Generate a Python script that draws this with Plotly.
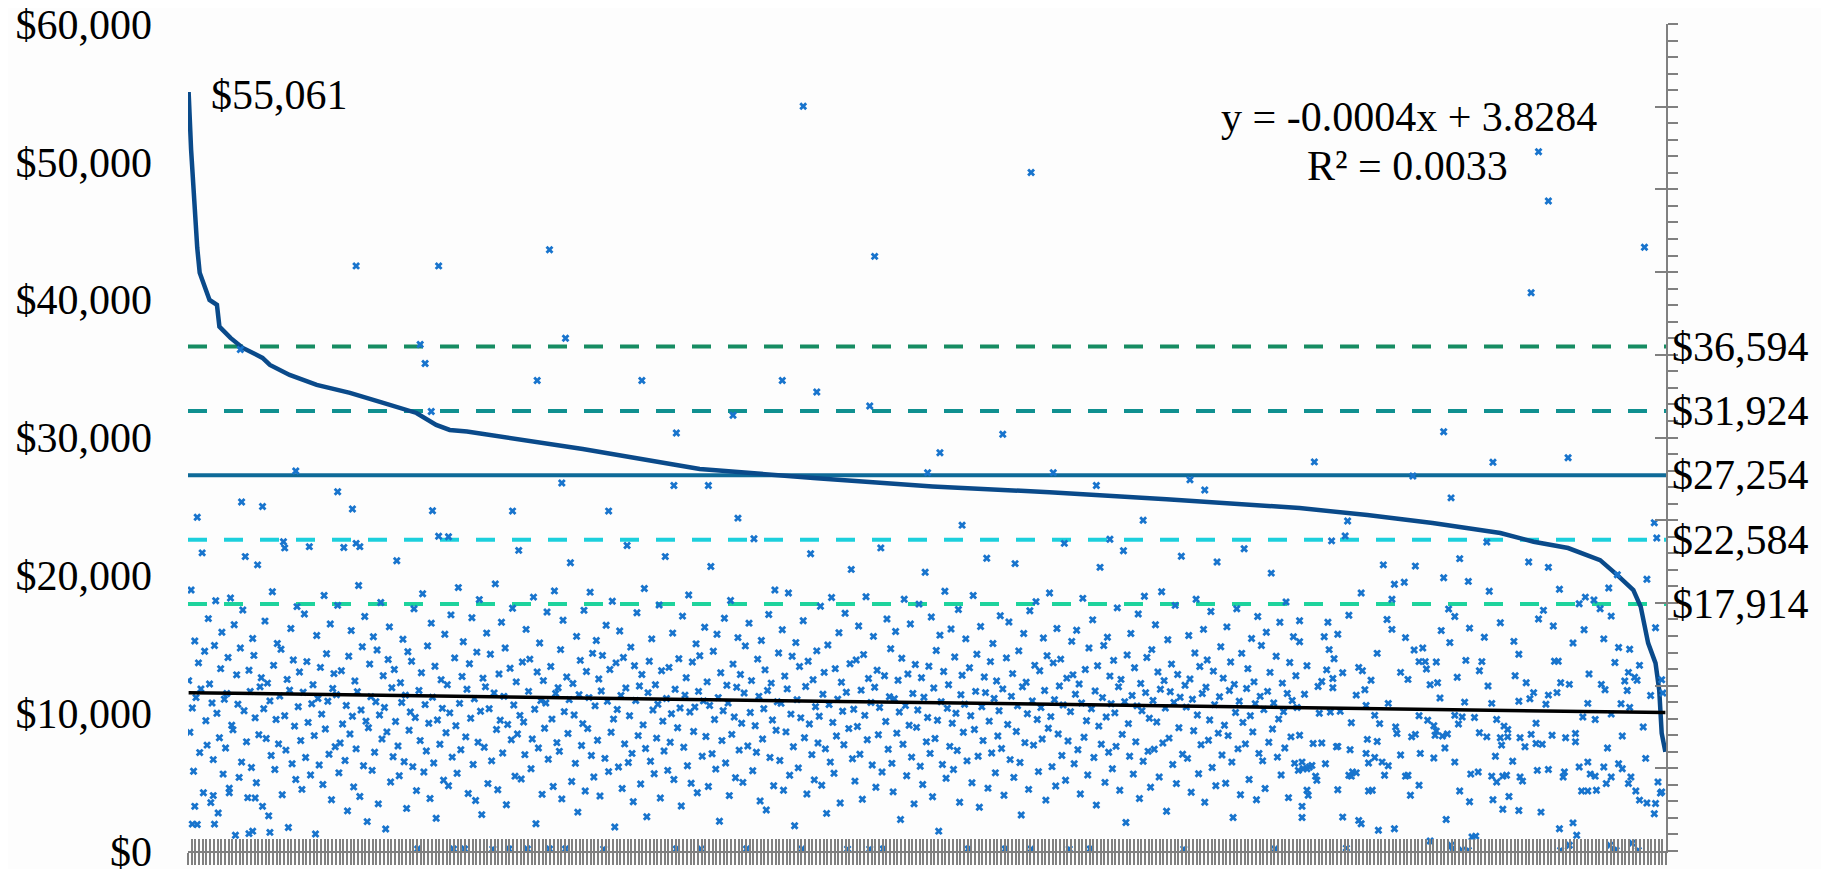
import plotly.graph_objects as go

N = 1200  # number of categories on the x axis

# Sorted (descending) dollar curve, read at selected category indices
curve_idx = [1, 3, 8, 10, 18, 24, 26, 35, 45, 61, 67, 83, 105, 132, 159, 186, 202, 213, 227,
             321, 416, 511, 605, 700, 795, 903, 958, 1011, 1066, 1093, 1121, 1147, 1161,
             1174, 1180, 1186, 1192, 1195, 1197, 1200]
curve_val = [55061, 50900, 43760, 41945, 39980, 39620, 38045, 37225, 36500, 35775, 35265, 34540,
             33815, 33235, 32510, 31780, 30910, 30550, 30430, 29160, 27720, 27040, 26450, 26030,
             25520, 24880, 24370, 23790, 23070, 22435, 21980, 21105, 20020, 18930, 17715, 15080,
             13630, 11670, 8550, 7190]

# Reference levels (mean and +/- 1, 2 SD)
levels = [36594, 31924, 27254, 22584, 17914]
level_labels = ["$36,594", "$31,924", "$27,254", "$22,584", "$17,914"]
level_colors = ["#168C62", "#109090", "#0E6A98", "#1CCFDC", "#1ED39C"]
level_dash = ["19px,17px", "19px,17px", "solid", "19px,17px", "19px,17px"]

# Trendline (secondary axis units)
trend_slope = -0.0004
trend_intercept = 3.8284

# Dense band, categories 1..902, one value per category (secondary axis units, estimated)
left_vals = [
    4.12, 2.87, 6.31, 3.46, 1.93, 5.08, 3.71, 0.64, 4.55, 2.38, 3.92, 7.21, 1.41, 4.83, 3.15, 2.56, 5.62, 4.04, 1.17, 3.58, 2.21, 4.97, 6.05, 3.33, 0.92, 2.74, 4.41, 5.29, 1.86, 3.67,
    2.49, 3.81, 4.68, 1.52, 6.12, 3.04, 2.93, 5.47, 0.38, 4.26, 3.55, 1.78, 4.91, 2.15, 5.83, 3.39, 7.12, 2.64, 1.29, 4.37, 3.86, 2.02, 5.14, 4.73, 3.22, 1.65, 6.92, 2.81, 3.97, 4.19,
    1.08, 3.44, 5.56, 2.72, 4.06, 0.85, 3.63, 2.31, 6.27, 4.49, 1.97, 3.18, 5.02, 2.59, 3.75, 4.88, 1.36, 7.48, 3.27, 2.44, 4.15, 0.57, 3.89, 5.38, 2.11, 4.62, 3.02, 1.73, 5.91, 3.49,
    4.33, 2.67, 1.49, 3.84, 5.73, 2.26, 4.58, 3.11, 7.36, 1.84, 3.56, 4.02, 2.79, 0.41, 5.21, 3.69, 2.08, 4.44, 3.31, 1.61, 6.18, 2.95, 4.77, 3.62, 2.34, 5.49, 1.24, 3.93, 4.29, 2.52,
    3.78, 5.94, 1.89, 2.61, 4.36, 3.07, 7.34, 2.19, 3.52, 0.97, 4.71, 2.83, 5.33, 3.26, 1.55, 4.11, 2.47, 3.85, 6.42, 1.32, 3.41, 4.94, 2.06, 5.67, 3.14, 0.71, 2.98, 4.52, 3.73, 1.95,
    5.18, 2.39, 3.61, 4.86, 1.14, 3.29, 6.01, 2.71, 4.24, 3.47, 0.53, 2.88, 4.63, 5.42, 1.67, 3.95, 2.28, 4.39, 3.13, 7.02, 2.54, 1.82, 4.07, 3.59, 5.12, 2.16, 3.77, 1.03, 4.82, 2.92,
    3.36, 4.59, 2.04, 5.86, 3.23, 1.46, 0.05, 3.88, 2.67, 4.31, 6.22, 1.91, 3.54, 2.42, 4.96, 3.09, 1.27, 5.51, 3.72, 2.13, 4.47, 0.79, 3.17, 7.61, 2.58, 4.14, 3.45, 1.71, 5.24, 2.86,
    4.02, 1.58, 3.34, 5.71, 2.27, 0.05, 4.67, 3.03, 1.88, 6.37, 3.57, 2.45, 4.22, 5.06, 0.05, 2.76, 3.91, 1.39, 4.53, 3.21, 5.64, 2.09, 3.68, 1.22, 4.81, 2.63, 6.08, 3.38, 0.88, 4.18,
    2.51, 3.97, 5.27, 1.63, 3.44, 4.76, 2.18, 0.05, 3.82, 6.46, 2.94, 1.48, 4.28, 3.16, 5.53, 2.37, 3.74, 4.91, 1.12, 3.06, 0.05, 4.42, 2.69, 5.87, 3.53, 1.81, 4.09, 2.83, 7.27, 3.28,
    1.74, 4.57, 3.12, 2.33, 5.36, 0.05, 3.86, 4.64, 1.99, 2.71, 6.14, 3.43, 0.66, 4.33, 2.49, 5.03, 3.64, 1.37, 4.12, 2.97, 3.58, 5.78, 2.22, 0.05, 4.46, 3.19, 1.56, 6.29, 3.81, 2.62,
    3.95, 2.41, 4.87, 1.26, 5.58, 3.37, 0.05, 4.21, 2.84, 3.66, 6.97, 1.68, 4.05, 3.29, 2.12, 5.19, 0.94, 3.78, 4.61, 2.55, 3.08, 5.82, 1.45, 4.34, 2.96, 3.71, 6.26, 2.31, 4.78, 1.79,
    3.51, 5.09, 2.68, 4.16, 1.33, 3.87, 4.73, 0.05, 2.24, 5.46, 3.62, 1.92, 4.39, 2.87, 6.04, 3.19, 0.58, 4.55, 3.42, 2.03, 5.32, 3.76, 1.51, 4.68, 2.59, 3.94, 7.39, 2.14, 3.27, 4.93,
    2.36, 1.19, 4.48, 3.64, 5.76, 2.79, 3.99, 1.62, 4.27, 3.05, 6.35, 2.48, 0.83, 3.83, 4.59, 2.17, 5.13, 3.41, 1.87, 4.02, 2.73, 3.55, 5.95, 1.28, 4.36, 3.14, 2.42, 7.12, 3.69, 1.95,
    4.44, 2.63, 3.32, 5.27, 1.73, 3.91, 0.05, 2.98, 4.65, 3.46, 1.09, 5.68, 2.51, 3.77, 4.19, 2.06, 6.19, 3.36, 1.64, 4.57, 2.89, 3.48, 5.01, 1.41, 3.86, 4.72, 0.05, 2.29, 3.63, 5.41,
    2.77, 4.09, 1.56, 3.52, 6.88, 2.35, 4.83, 3.18, 1.98, 5.24, 3.71, 0.72, 4.31, 2.67, 3.39, 5.63, 2.13, 4.01, 3.58, 1.34, 6.06, 2.82, 4.52, 3.24, 1.77, 3.96, 5.16, 2.44, 4.27, 3.09,
    1.66, 3.82, 4.96, 0.05, 2.54, 5.51, 3.35, 4.12, 1.94, 7.55, 3.03, 2.39, 4.64, 3.74, 1.21, 5.09, 2.71, 3.44, 4.38, 0.99, 3.88, 5.72, 2.26, 4.06, 3.17, 1.58, 6.31, 2.92, 3.61, 4.79,
    2.19, 3.57, 5.35, 1.47, 4.23, 2.88, 3.92, 6.24, 1.83, 3.31, 4.71, 2.52, 0.61, 5.04, 3.66, 2.01, 4.46, 3.22, 0.05, 5.57, 2.74, 3.98, 1.38, 4.59, 3.07, 7.19, 2.33, 4.14, 1.72, 3.49,
    4.84, 2.61, 3.26, 5.92, 1.59, 3.79, 4.32, 2.47, 0.91, 4.98, 3.54, 2.15, 6.13, 3.11, 1.88, 4.41, 2.78, 3.67, 5.28, 1.16, 4.08, 3.38, 2.57, 5.75, 3.84, 0.05, 2.96, 4.53, 6.81, 2.23,
    3.43, 1.69, 4.62, 3.01, 5.44, 2.34, 3.89, 1.25, 4.75, 3.28, 6.15, 2.69, 4.17, 0.05, 3.59, 2.08, 5.19, 3.96, 1.54, 4.37, 2.81, 3.47, 7.33, 1.91, 0.05, 4.24, 3.13, 5.61, 2.46, 3.73,
    4.89, 2.12, 1.43, 3.68, 5.31, 2.85, 4.13, 3.36, 0.76, 4.66, 2.58, 6.09, 3.52, 1.82, 4.28, 3.04, 5.49, 2.27, 3.81, 1.14, 4.51, 2.99, 3.41, 5.97, 2.05, 4.19, 1.61, 3.72, 6.74, 2.64,
    3.23, 4.47, 2.36, 5.66, 1.31, 3.94, 2.72, 4.85, 3.16, 0.48, 5.22, 3.61, 2.09, 4.34, 6.28, 1.76, 3.45, 4.02, 2.53, 5.37, 3.09, 1.97, 4.69, 3.33, 2.43, 5.84, 1.18, 3.78, 4.25, 2.87,
    3.55, 5.13, 2.18, 0.05, 4.43, 3.27, 1.65, 6.18, 2.94, 3.86, 4.76, 2.29, 1.06, 5.43, 3.49, 2.67, 4.21, 3.83, 7.08, 1.52, 3.14, 4.58, 2.37, 5.02, 3.69, 1.89, 4.11, 2.78, 3.39, 5.69,
    2.48, 3.92, 1.35, 0.05, 4.67, 3.06, 5.54, 2.21, 3.74, 4.29, 1.78, 6.95, 2.89, 3.51, 4.84, 2.14, 0.87, 3.97, 5.26, 2.62, 4.08, 3.32, 1.49, 5.81, 0.05, 3.63, 2.56, 4.49, 6.03, 3.18,
    1.92, 4.36, 3.47, 2.71, 5.15, 3.88, 1.23, 4.72, 2.97, 6.24, 3.25, 2.04, 4.55, 3.66, 1.57, 5.38, 2.83, 3.99, 4.64, 2.31, 3.53, 7.44, 1.71, 4.18, 2.66, 0.05, 3.37, 5.07, 4.26, 2.11,
    3.79, 5.34, 2.45, 4.04, 1.38, 3.58, 6.11, 2.75, 4.39, 3.15, 1.84, 4.91, 0.05, 3.44, 5.59, 2.26, 3.87, 1.11, 4.48, 3.02, 6.86, 2.58, 3.71, 4.97, 1.66, 3.24, 5.17, 2.39, 4.23, 3.56,
    1.99, 4.61, 3.34, 2.53, 5.88, 3.97, 1.47, 4.15, 2.82, 7.26, 3.61, 0.69, 4.74, 3.08, 2.29, 5.26, 3.76, 1.86, 4.43, 2.64, 3.51, 5.73, 1.27, 4.05, 3.39, 2.17, 6.16, 3.83, 4.68, 2.41,
    3.21, 1.54, 4.87, 3.64, 2.46, 5.47, 3.12, 4.33, 1.79, 3.91, 6.27, 2.61, 4.12, 3.46, 0.96, 5.11, 2.73, 3.85, 4.52, 2.09, 3.59, 5.94, 1.63, 4.27, 2.98, 3.72, 7.13, 2.34, 0.05, 4.01,
    3.48, 2.24, 5.21, 4.16, 1.42, 3.67, 2.91, 4.79, 6.09, 3.29, 1.87, 4.46, 2.57, 3.81, 5.36, 1.18, 3.96, 4.62, 2.68, 3.17, 5.79, 2.02, 4.35, 3.54, 1.58, 6.99, 2.85, 3.73, 4.94, 2.32,
    4.18, 3.04, 1.64, 5.42, 2.79, 3.88, 4.57, 2.15, 0.81, 4.03, 3.35, 5.86, 2.47, 3.62, 1.36, 4.78, 3.11, 7.31, 2.59, 3.93, 4.41, 1.73, 3.27, 5.14, 2.88, 4.09, 3.56, 1.24, 5.67, 2.36,
    3.74, 4.97, 2.18, 3.42, 1.51, 5.29, 3.86, 2.63, 4.32, 6.72, 2.95, 3.58, 0.05, 4.71, 2.27, 3.19, 5.53, 1.84, 4.06, 3.37, 2.49, 6.02, 3.81, 1.29, 4.56, 2.76, 3.64, 5.18, 2.12, 4.24,
    3.47, 1.95,
]

# Individually read scatter points (category index, secondary axis units)
scatter_idx = [
    500, 685, 1097, 1105, 1183, 1091, 294, 558, 137, 204, 307, 189, 193, 43, 284, 369, 483, 511,
    198, 554, 443, 662, 397, 1020, 611, 915, 88, 703, 601, 304, 395, 423, 738, 814, 826,
    122, 44, 61, 134, 199, 8, 212, 79, 137, 140, 264, 342, 776, 447, 629, 749,
    1060, 1121, 995, 1026, 942, 1191, 940, 929, 1055, 1193, 1033, 1089, 1105, 971, 997, 1020,
    1040, 980, 988, 1161, 1185, 953, 1057, 1114, 1154, 978, 1024, 1135, 1142, 1130, 1147, 1101,
    1029, 943, 1156, 903, 926, 974, 1097, 1066, 978, 1018, 1041, 1109, 1134, 1192, 923, 934,
    989, 1053, 1150, 903, 1025, 1077, 1125, 927, 966, 996, 1003, 1162, 1171, 931, 1000, 1005,
    1014, 1038, 1051, 1081, 1110, 1113, 1159, 1179, 909, 925, 938, 951, 954, 985, 1006, 1049,
    1078, 1138, 1170, 1175, 1177, 1031, 991, 921, 930, 961, 1015, 1115, 1122, 1148, 1167, 1197,
    918, 930, 956, 1009, 1056, 1087, 1151, 1169, 1198, 907, 949, 1017, 1093, 1105, 1112, 1188,
    1037, 1059, 1081, 1090, 1137, 1164, 1103, 1171, 975, 957, 919, 928, 936, 964, 1000, 1007,
    1029, 1035, 1045, 1063, 1133, 1143, 1156, 945, 968, 1012, 1014, 981, 1032, 1095, 1069, 1072,
    1049, 903, 982, 997, 994, 1013, 1019, 1023, 1055, 1066, 1072, 1082, 1091, 1108, 1119, 1127,
    1127, 1165, 1182, 914, 921, 933, 958, 966, 1021, 1067, 1086, 1095, 1100, 1153, 934, 944,
    905, 906, 909, 911, 913, 916, 917, 924, 905, 905, 909, 910, 934, 938, 943, 945, 946, 949,
    951, 953, 959, 962, 957, 959, 964, 970, 975, 972, 967, 980, 985, 989, 991, 993, 1000, 1001,
    1012, 1022, 1029, 1033, 1042, 1041, 1048, 1009, 1026, 1027, 1035, 1040, 1043, 1046, 1059,
    1063, 1060, 1062, 1068, 1071, 1073, 1068, 1076, 1081, 1082, 1084, 1096, 1105, 1099, 1114,
    1115, 1117, 1118, 1122, 1125, 1128, 1130, 1132, 1137, 1137, 1139, 1143, 1144, 1150, 1152,
    1156, 1162, 1165, 1170, 1172, 1176, 1179, 1184, 1185, 1191, 1192, 1194, 1196, 1197, 1155,
    1158, 1160, 1173, 1178, 941,
    6, 21, 34, 55, 4, 22, 50, 53, 67,
]
scatter_val = [
    18.01, 16.41, 16.91, 15.72, 14.60, 13.50, 14.54, 14.38, 14.15, 14.15, 12.40, 12.25, 11.79,
    12.13, 11.38, 11.38, 11.38, 11.10, 10.63, 10.76, 10.54, 10.08, 10.11, 10.14, 9.63, 9.41,
    9.19, 9.15, 9.15, 8.90, 8.84, 8.84, 8.84, 8.98, 8.73,
    8.69, 8.44, 8.33, 8.27, 8.23, 8.07, 7.60, 7.33, 7.44, 7.36, 8.22, 8.22, 8.00, 8.05, 7.88, 7.54,
    9.40, 9.51, 9.07, 8.54, 7.98, 7.94, 7.62, 7.50, 7.47, 7.57, 7.07, 6.99, 6.86, 6.92, 6.89, 6.61,
    6.52, 6.45, 6.50, 6.68, 6.57, 6.24, 6.28, 6.33, 6.36, 6.09, 5.85, 6.14, 6.07, 5.98, 5.86, 5.82,
    5.67, 5.70, 5.68, 5.57, 5.53, 5.60, 5.61, 5.52, 5.36, 5.33, 5.39, 5.44, 5.35, 5.40, 5.18, 5.24,
    5.16, 5.17, 5.13, 5.06, 5.04, 5.07, 5.03, 4.87, 4.78, 4.86, 4.91, 4.92, 4.88, 4.65, 4.58, 4.58,
    4.57, 4.61, 4.58, 4.76, 4.59, 4.59, 4.56, 4.49, 4.48, 4.38, 4.31, 4.44, 4.36, 4.32, 4.40, 4.36,
    4.24, 4.28, 4.32, 4.20, 4.13, 4.20, 4.15, 4.10, 4.17, 4.13, 4.07, 4.07, 4.03, 4.03, 4.11, 4.14,
    3.98, 3.95, 3.90, 4.02, 3.99, 4.07, 3.90, 3.88, 3.82, 3.79, 3.77, 3.70, 3.83, 3.77, 3.83, 3.76,
    3.60, 3.57, 3.62, 3.68, 3.57, 3.56, 3.55, 3.47, 3.57, 3.52, 3.33, 3.36, 3.38, 3.28, 3.27, 3.16,
    3.28, 3.24, 3.23, 3.18, 3.24, 3.18, 3.31, 3.10, 3.08, 3.03, 2.90, 3.00, 3.07, 3.09, 3.02, 2.94,
    2.86, 2.80, 2.84, 2.82, 2.76, 2.80, 2.78, 2.83, 2.76, 2.74, 2.76, 2.74, 2.82, 2.80, 2.74, 2.84,
    2.64, 2.78, 3.00, 2.60, 2.61, 2.52, 2.70, 2.65, 2.49, 2.56, 2.52, 2.60, 2.58, 2.49, 2.53, 2.45,
    2.15, 1.99, 1.99, 2.03, 2.07, 1.81, 1.71, 2.11, 1.08, 0.81, 1.47, 1.35, 1.48, 0.82, 1.83, 1.81,
    1.91, 1.89, 0.74, 0.66, 1.45, 1.47, 2.36, 2.13, 2.26, 2.15, 2.06, 1.83, 0.50, 0.54, 2.32, 1.81,
    1.83, 1.35, 1.59, 2.36, 2.25, 0.76, 2.15, 1.45, 1.86, 1.19, 1.91, 0.24, 0.14, 0.02, 0.02, 0.02,
    0.34, 0.36, 1.81, 1.67, 1.24, 2.29, 1.81, 1.83, 1.32, 1.01, 2.17, 0.98, 1.79, 1.69, 1.95, 1.97,
    0.94, 0.54, 0.02, 1.79, 1.91, 0.14, 0.68, 0.38, 2.03, 1.45, 1.45, 2.15, 1.86, 1.81, 1.47, 2.03,
    1.63, 1.79, 2.11, 1.99, 1.63, 1.79, 1.45, 1.23, 2.24, 1.16, 0.90, 1.15, 1.67, 1.40, 1.43, 0.14,
    0.02, 0.02, 0.19, 0.02, 0.07,
    1.08, 1.34, 1.41, 1.28, 0.65, 0.65, 0.42, 0.48, 0.45,
]

all_idx = list(range(1, len(left_vals) + 1)) + scatter_idx
all_val = left_vals + scatter_val

y_ticks = [0, 10000, 20000, 30000, 40000, 50000, 60000]
y_ticktext = ["$0", "$10,000", "$20,000", "$30,000", "$40,000", "$50,000", "$60,000"]

FONT = "Liberation Serif, Times New Roman, serif"
GRAY = "#808080"

fig = go.Figure()

for lvl, col, dash in zip(levels, level_colors, level_dash):
    fig.add_trace(go.Scatter(x=[0.5, N + 0.5], y=[lvl, lvl], mode="lines",
                             line=dict(color=col, width=4, dash=dash),
                             showlegend=False, hoverinfo="skip"))

fig.add_trace(go.Scatter(x=curve_idx, y=curve_val, mode="lines",
                         line=dict(color="#0A4A8A", width=4.5), showlegend=False))

fig.add_trace(go.Scatter(x=all_idx, y=all_val, mode="markers", yaxis="y2",
                         marker=dict(symbol="x", size=7, color="#1874CD"),
                         showlegend=False))

tx = [1, N]
ty = [trend_slope * v + trend_intercept for v in tx]
fig.add_trace(go.Scatter(x=tx, y=ty, mode="lines", yaxis="y2",
                         line=dict(color="black", width=3.5), showlegend=False))

# dummy trace to materialise the inner-tick axes
fig.add_trace(go.Scatter(x=[1], y=[0], xaxis="x2", yaxis="y3", mode="markers",
                         marker=dict(opacity=0), showlegend=False, hoverinfo="skip"))

annotations = []
for lvl, txt in zip(levels, level_labels):
    annotations.append(dict(x=1, xref="paper", y=lvl, yref="y", text=txt, showarrow=False,
                            xanchor="left", yanchor="middle", xshift=4,
                            font=dict(family=FONT, size=42, color="black")))
annotations.append(dict(x=curve_idx[0], xref="x", y=curve_val[0], yref="y", text="$55,061",
                        showarrow=False, xanchor="left", yanchor="middle", xshift=20, yshift=-3,
                        font=dict(family=FONT, size=42, color="black")))
annotations.append(dict(x=992, xref="x", y=53270, yref="y", text="y = -0.0004x + 3.8284",
                        showarrow=False, xanchor="center", yanchor="middle",
                        font=dict(family=FONT, size=42, color="black")))
annotations.append(dict(x=991, xref="x", y=49713, yref="y", text="R² = 0.0033",
                        showarrow=False, xanchor="center", yanchor="middle",
                        font=dict(family=FONT, size=42, color="black")))

# page body adds an 8px offset, so the figure is sized to fit the window
fig.update_layout(
    width=1821, height=861,
    margin=dict(l=180, r=163, t=16, b=18, autoexpand=False),
    paper_bgcolor="#fdfdfd", plot_bgcolor="rgba(0,0,0,0)",
    showlegend=False,
    annotations=annotations,
    xaxis=dict(range=[0.5, N + 0.5], showgrid=False, zeroline=False, showticklabels=False,
               showline=True, linecolor=GRAY, linewidth=2, automargin=False,
               ticks="outside", ticklen=12, tickwidth=1.5, tickcolor=GRAY,
               tick0=0.5, dtick=3),
    xaxis2=dict(range=[0.5, N + 0.5], overlaying="x", anchor="y", side="bottom",
                showgrid=False, zeroline=False, showticklabels=False, showline=False,
                automargin=False,
                ticks="inside", ticklen=12, tickwidth=1.5, tickcolor=GRAY,
                tick0=0.5, dtick=3),
    yaxis=dict(range=[0, 60000], tickvals=y_ticks, ticktext=y_ticktext, showgrid=False,
               zeroline=False, showline=False, ticks="", ticklabelstandoff=35,
               automargin=False, ticklabeloverflow="allow",
               tickfont=dict(family=FONT, size=42, color="black")),
    yaxis2=dict(range=[0, 20], overlaying="y", side="right", anchor="x", showgrid=False,
                zeroline=False, showticklabels=False, showline=True, linecolor=GRAY,
                linewidth=2, automargin=False,
                ticks="outside", ticklen=10, tickwidth=2, tickcolor=GRAY,
                tick0=0, dtick=2,
                minor=dict(tick0=0, dtick=0.4, ticks="outside", ticklen=10, tickwidth=2,
                           tickcolor=GRAY)),
    yaxis3=dict(range=[0, 20], overlaying="y", side="right", anchor="x2", showgrid=False,
                zeroline=False, showticklabels=False, showline=False, automargin=False,
                ticks="inside", ticklen=11, tickwidth=2, tickcolor=GRAY, tick0=0, dtick=2),
)

fig.write_html("out.html")
